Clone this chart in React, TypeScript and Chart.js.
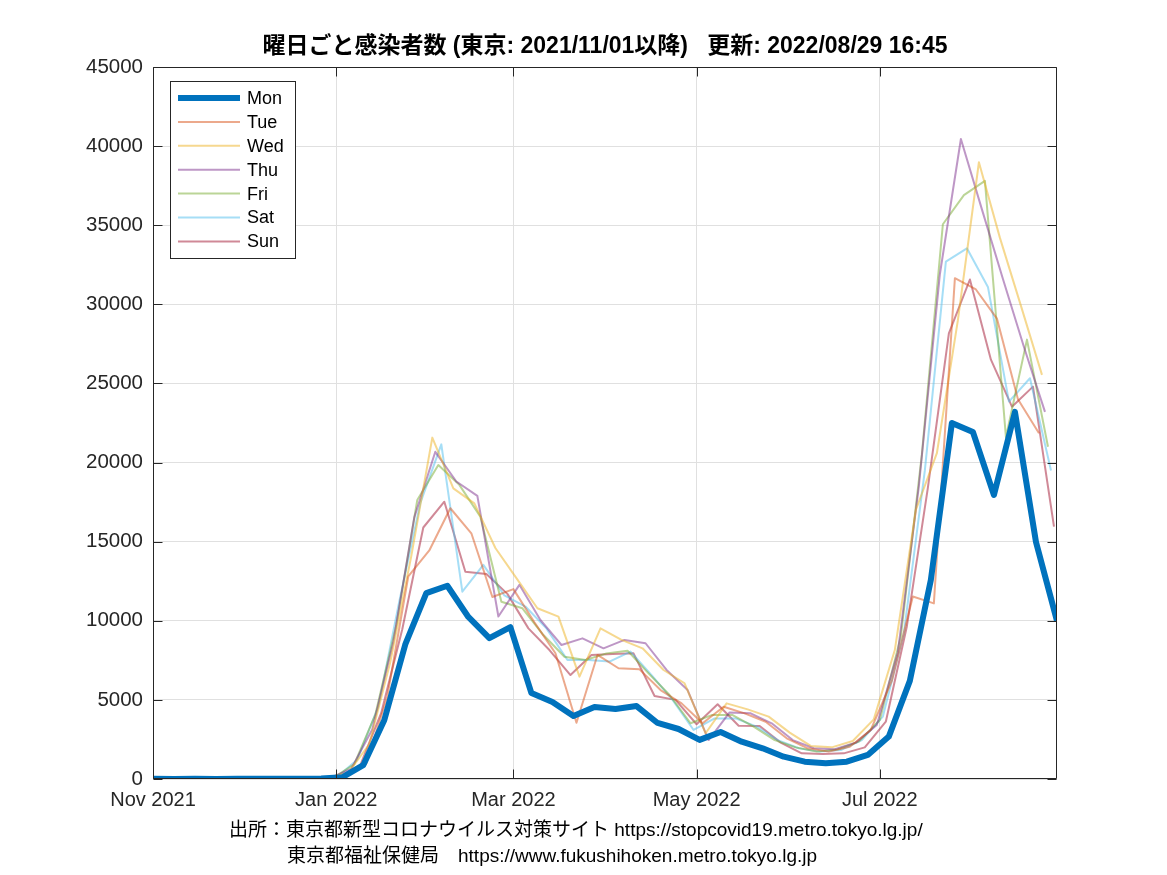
import React, { useEffect, useRef } from "react";
import { Chart, registerables } from "chart.js";

Chart.register(...registerables);

// Weekday series: value k is for day (weekdayOffset + 7k) counted from 2021-11-01 (a Monday)
const weekdayNames = ["Mon", "Tue", "Wed", "Thu", "Fri", "Sat", "Sun"];

const mon = [9, 6, 8, 6, 9, 8, 10, 12, 29, 103, 871, 3709, 8503, 11751, 12213, 10240, 8900, 9600, 5430, 4870, 3980, 4550, 4420, 4610, 3540, 3160, 2470, 2970, 2360, 1940, 1410, 1095, 990, 1095, 1520, 2680, 6200, 12580, 22500, 21930, 17950, 23200, 14980, 9990];
const tue = [18, 13, 24, 9, 13, 14, 19, 23, 46, 151, 962, 5185, 12813, 14445, 17113, 15530, 11500, 12000, 9900, 7950, 3560, 7840, 7000, 6930, 5620, 4780, 3520, 4570, 4150, 3620, 2570, 1940, 1730, 2040, 3100, 6200, 11530, 11100, 31650, 30940, 29100, 24000, 21850];
const wed = [36, 20, 23, 19, 13, 17, 21, 36, 76, 390, 2198, 7377, 14086, 21576, 18370, 17420, 14600, 12700, 10790, 10260, 6470, 9520, 8790, 8260, 6890, 6050, 2890, 4780, 4400, 3940, 2930, 2090, 2000, 2400, 3770, 8150, 17000, 20590, 29000, 38980, 34200, 29900, 25540];
const thu = [22, 19, 20, 24, 13, 20, 19, 26, 64, 641, 3124, 8638, 16538, 20679, 18800, 17890, 10270, 12270, 10050, 8470, 8890, 8260, 8790, 8580, 6890, 5620, 2460, 4210, 4150, 3520, 2460, 1940, 1880, 2300, 3410, 8000, 18500, 31900, 40450, 36000, 31600, 27300, 23200];
const fri = [30, 25, 21, 24, 20, 24, 21, 26, 78, 922, 4051, 9699, 17631, 19840, 18590, 16580, 11200, 10790, 9100, 7730, 7520, 7940, 8110, 6680, 5310, 3520, 4040, 4040, 3310, 2460, 2000, 1730, 1880, 2360, 3730, 9000, 20500, 35060, 36900, 37800, 21600, 27770, 21000];
const sat = [21, 25, 24, 24, 16, 20, 30, 37, 79, 1224, 4561, 11227, 17433, 21150, 11840, 13530, 11600, 10900, 9520, 7520, 7520, 7420, 8050, 6570, 5000, 3100, 3830, 3830, 3310, 2460, 1940, 1730, 1830, 2460, 3940, 9210, 19500, 32700, 33540, 31100, 23850, 25330, 19500];
const sun = [20, 20, 13, 23, 13, 17, 24, 24, 84, 860, 4172, 9468, 15895, 17526, 13100, 12960, 11700, 9520, 8150, 6570, 7840, 7900, 7940, 5250, 5000, 3460, 4720, 3370, 3350, 2300, 1620, 1580, 1620, 2000, 3620, 9640, 18400, 28170, 31570, 26500, 23530, 24800, 15950];

const seriesValues = [mon, tue, wed, thu, fri, sat, sun];

// X axis: days since 2021-11-01
const xTickDays = [0, 61, 120, 181, 242];
const xTickLabels = ["Nov 2021", "Jan 2022", "Mar 2022", "May 2022", "Jul 2022"];
const xMaxDay = 301;
const yMax = 45000;
const yStep = 5000;

const titleText = "曜日ごと感染者数 (東京: 2021/11/01以降)   更新: 2022/08/29 16:45";
const sourceLine1 = "出所：東京都新型コロナウイルス対策サイト https://stopcovid19.metro.tokyo.lg.jp/";
const sourceLine2 = "東京都福祉保健局　https://www.fukushihoken.metro.tokyo.lg.jp";

const lineColors = [
  "rgba(0,114,189,1)",
  "rgba(217,83,25,0.5)",
  "rgba(237,177,32,0.5)",
  "rgba(126,47,142,0.5)",
  "rgba(119,172,48,0.5)",
  "rgba(77,190,238,0.5)",
  "rgba(162,20,47,0.5)",
];
const lineWidths = [6, 2, 2, 2, 2, 2, 2];

const FONT = '"Liberation Sans", Arial, Helvetica, "Noto Sans CJK JP", sans-serif';

const framePlugin = {
  id: "matlabFrame",
  afterDatasetsDraw(chart: any) {
    const { ctx, chartArea: a, scales } = chart;
    const L = Math.round(a.left) + 0.5;
    const R = Math.round(a.right) - 0.5;
    const T = Math.round(a.top) + 0.5;
    const B = Math.round(a.bottom) - 0.5;
    ctx.save();
    ctx.strokeStyle = "#262626";
    ctx.lineWidth = 1;
    ctx.beginPath();
    ctx.rect(L, T, R - L, B - T);
    ctx.stroke();
    const tl = 9;
    ctx.beginPath();
    scales.x.ticks.forEach((t: any) => {
      const px = Math.round(scales.x.getPixelForValue(t.value)) + 0.5;
      ctx.moveTo(px, B);
      ctx.lineTo(px, B - tl);
      ctx.moveTo(px, T);
      ctx.lineTo(px, T + tl);
    });
    scales.y.ticks.forEach((t: any) => {
      const py = Math.round(scales.y.getPixelForValue(t.value)) + 0.5;
      ctx.moveTo(L, py);
      ctx.lineTo(L + tl, py);
      ctx.moveTo(R, py);
      ctx.lineTo(R - tl, py);
    });
    ctx.stroke();
    ctx.restore();
  },
};

const legendPlugin = {
  id: "boxLegend",
  afterDraw(chart: any) {
    const { ctx } = chart;
    const x0 = 170, y0 = 81, w = 125, h = 177;
    ctx.save();
    ctx.fillStyle = "#ffffff";
    ctx.fillRect(x0, y0, w, h);
    ctx.strokeStyle = "#262626";
    ctx.lineWidth = 1;
    ctx.strokeRect(x0 + 0.5, y0 + 0.5, w, h);
    ctx.font = `18px ${FONT}`;
    ctx.textBaseline = "middle";
    ctx.textAlign = "left";
    chart.data.datasets.forEach((ds: any, i: number) => {
      const y = 98 + i * 23.9;
      ctx.strokeStyle = ds.borderColor;
      ctx.lineWidth = ds.borderWidth;
      ctx.beginPath();
      ctx.moveTo(178, y);
      ctx.lineTo(240, y);
      ctx.stroke();
      ctx.fillStyle = "#000000";
      ctx.fillText(ds.label, 247, y + 1);
    });
    ctx.restore();
  },
};

export default function App() {
  const canvasRef = useRef<HTMLCanvasElement | null>(null);

  useEffect(() => {
    if (!canvasRef.current) return;
    const datasets = seriesValues.map((vals, w) => ({
      label: weekdayNames[w],
      data: vals.map((v, k) => ({ x: w + 7 * k, y: v })),
      borderColor: lineColors[w],
      backgroundColor: lineColors[w],
      borderWidth: lineWidths[w],
      pointRadius: 0,
      tension: 0,
      fill: false,
      clip: 0,
      borderJoinStyle: "round" as const,
    }));

    const chart = new Chart(canvasRef.current, {
      type: "line",
      data: { datasets },
      options: {
        animation: false,
        responsive: false,
        events: [],
        layout: { padding: { top: 67, right: 110, bottom: 0, left: 0 } },
        plugins: {
          legend: { display: false },
          tooltip: { enabled: false },
          title: { display: false },
        },
        scales: {
          x: {
            type: "linear",
            min: 0,
            max: xMaxDay,
            afterBuildTicks: (axis: any) => {
              axis.ticks = xTickDays.map((v) => ({ value: v }));
            },
            afterFit: (scale: any) => {
              scale.height = 96;
            },
            ticks: {
              autoSkip: false,
              maxRotation: 0,
              padding: 9,
              color: "#262626",
              font: { family: FONT, size: 20 },
              callback: (v: any) => {
                const i = xTickDays.indexOf(Number(v));
                return i >= 0 ? xTickLabels[i] : "";
              },
            },
            grid: { color: "#e0e0e0", lineWidth: 1, drawTicks: false },
            border: { display: false },
          },
          y: {
            type: "linear",
            min: 0,
            max: yMax,
            afterFit: (scale: any) => {
              scale.width = 153;
            },
            ticks: {
              stepSize: yStep,
              padding: 10,
              color: "#262626",
              font: { family: FONT, size: 20.5 },
              callback: (v: any) => String(v),
            },
            grid: { color: "#e0e0e0", lineWidth: 1, drawTicks: false },
            border: { display: false },
          },
        },
      },
      plugins: [framePlugin, legendPlugin],
    });
    return () => chart.destroy();
  }, []);

  return (
    <div
      style={{
        position: "fixed",
        left: 0,
        top: 0,
        width: 1167,
        height: 875,
        background: "#ffffff",
        fontFamily: FONT,
      }}
    >
      <canvas
        ref={canvasRef}
        width={1167}
        height={875}
        style={{ position: "absolute", left: 0, top: 0, width: 1167, height: 875, display: "block" }}
      />
      <div
        style={{
          position: "absolute",
          left: 153,
          width: 904,
          top: 31,
          textAlign: "center",
          fontWeight: "bold",
          fontSize: 23,
          lineHeight: "28px",
          color: "#000",
          whiteSpace: "pre",
        }}
      >
        {titleText}
      </div>
      <div
        style={{
          position: "absolute",
          left: 229,
          top: 817,
          fontSize: 19,
          lineHeight: "26px",
          color: "#000",
          whiteSpace: "pre",
        }}
      >
        {sourceLine1}
      </div>
      <div
        style={{
          position: "absolute",
          left: 287,
          top: 843,
          fontSize: 19,
          lineHeight: "26px",
          color: "#000",
          whiteSpace: "pre",
        }}
      >
        {sourceLine2}
      </div>
    </div>
  );
}
